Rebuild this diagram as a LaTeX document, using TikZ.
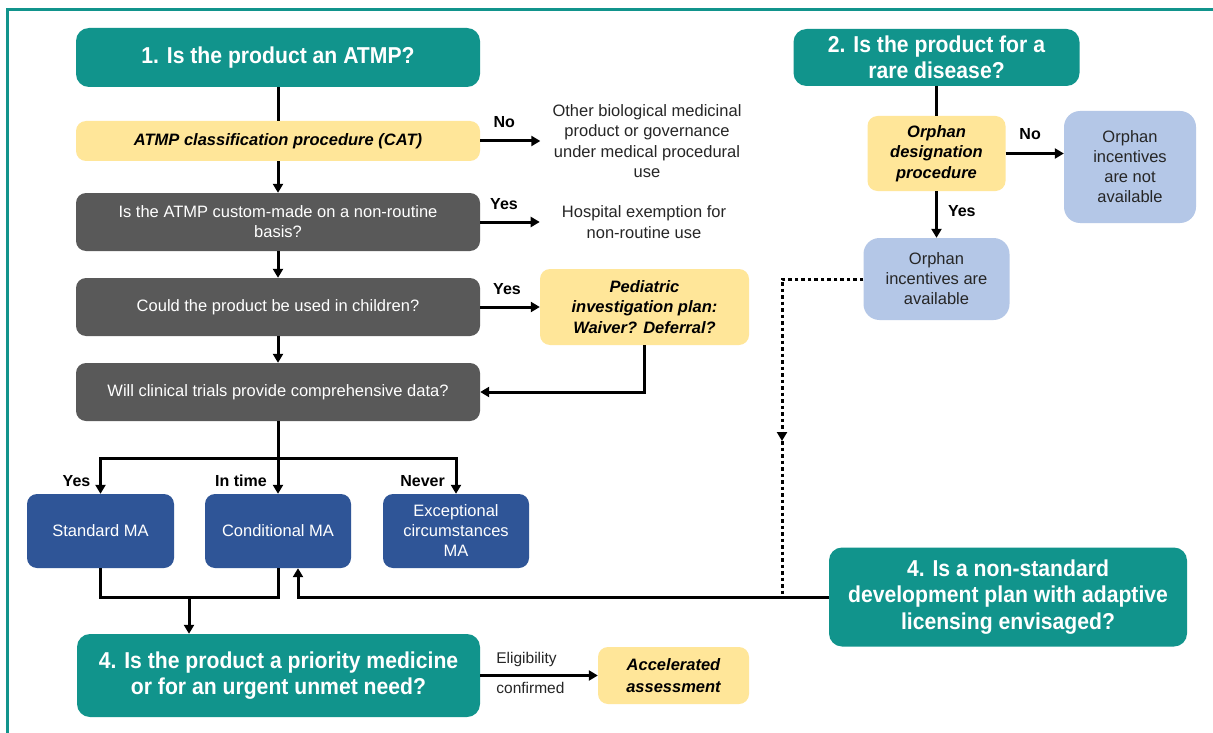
\documentclass[tikz,border=0pt]{standalone}
\usepackage{fontspec}
\setmainfont{Liberation Sans}
\newfontfamily\titlefont{Liberation Sans}[FakeStretch=0.92]
\usetikzlibrary{arrows.meta}

\definecolor{tealc}{RGB}{17,148,140}
\definecolor{grayc}{RGB}{89,89,89}
\definecolor{yellowc}{RGB}{255,230,153}
\definecolor{bluec}{RGB}{47,85,151}
\definecolor{lightc}{RGB}{180,199,231}
\definecolor{textc}{RGB}{38,38,38}

\begin{document}
\begin{tikzpicture}[x=1pt,y=-1pt,
  base/.style={rounded corners=10pt, inner sep=0pt, align=center,
    font=\fontsize{16.5}{20}\selectfont},
  titlebox/.style={base, rounded corners=13pt, fill=tealc, text=white,
    font=\titlefont\bfseries\fontsize{23}{26.5}\selectfont},
  graybox/.style={base, fill=grayc, text=white},
  yellowbox/.style={base, fill=yellowc, text=black,
    font=\bfseries\itshape\fontsize{16.5}{20.5}\selectfont},
  bluebox/.style={base, fill=bluec, text=white},
  lightbox/.style={base, rounded corners=16pt, fill=lightc, text=textc},
  plain/.style={align=center, text=textc, inner ysep=0pt,
    font=\fontsize{16.5}{20.3}\selectfont},
  lbl/.style={font=\bfseries\fontsize{16}{19}\selectfont, text=black, inner sep=0pt},
  note/.style={font=\fontsize{15.5}{18}\selectfont, text=textc, inner sep=0pt},
  conn/.style={line width=3pt, draw=black},
  arr/.style={conn, -{Triangle[length=9pt,width=10pt]}},
  dotconn/.style={line width=3pt, draw=black, dash pattern=on 3.5pt off 3pt}
]
\useasboundingbox (0,0) rectangle (1213,733);
\fill[white] (0,0) rectangle (1213,733);
% frame
\draw[tealc, line width=3pt] (7.5,733) -- (7.5,9.5) -- (1213,9.5);

% left column
\node[titlebox, minimum width=404, minimum height=59] (q1) at (278,57.5) {1. Is the product an ATMP?};
\node[yellowbox, minimum width=404, minimum height=40] (cat) at (278,141) {ATMP classification procedure (CAT)};
\node[graybox, minimum width=404, minimum height=58] (g1) at (278,222) {Is the ATMP custom-made on a non-routine\\basis?};
\node[graybox, minimum width=404, minimum height=58] (g2) at (278,307) {Could the product be used in children?};
\node[graybox, minimum width=404, minimum height=58] (g3) at (278,392) {Will clinical trials provide comprehensive data?};

\node[plain, inner xsep=12pt] (other) at (647,141) {Other biological medicinal\\product or governance\\under medical procedural\\use};
\node[plain, inner xsep=22pt] (hosp) at (644,222) {Hospital exemption for\\non-routine use};
\node[yellowbox, minimum width=209, minimum height=76] (ped) at (644.5,307) {Pediatric\\investigation plan:\\Waiver? Deferral?};

\node[bluebox, minimum width=147, minimum height=74] (std) at (100.5,531) {Standard MA};
\node[bluebox, minimum width=146, minimum height=74] (cond) at (278,531) {Conditional MA};
\node[bluebox, minimum width=146, minimum height=74] (exc) at (456,531) {Exceptional\\circumstances\\MA};

\node[titlebox, minimum width=403, minimum height=83] (prio) at (278.5,675.5) {4. Is the product a priority medicine\\or for an urgent unmet need?};
\node[yellowbox, minimum width=151, minimum height=57, font=\bfseries\itshape\fontsize{16.5}{22}\selectfont] (acc) at (673.5,675.5) {Accelerated\\assessment};

% right column
\node[titlebox, minimum width=286, minimum height=57] (q2) at (936.5,57.5) {2. Is the product for a\\rare disease?};
\node[yellowbox, minimum width=138, minimum height=75] (orph) at (936.5,153.5) {Orphan\\designation\\procedure};
\node[lightbox, minimum width=132, minimum height=112] (notav) at (1130,167) {Orphan\\incentives\\are not\\available};
\node[lightbox, minimum width=146, minimum height=82] (avail) at (936.5,279) {Orphan\\incentives are\\available};
\node[titlebox, minimum width=358, minimum height=99] (adapt) at (1008,597) {4. Is a non-standard\\development plan with adaptive\\licensing envisaged?};

% main chain
\draw[conn] (q1) -- (cat);
\draw[arr] (cat) -- (g1);
\draw[arr] (g1) -- (g2);
\draw[arr] (g2) -- (g3);

\draw[arr] (cat.east) -- node[lbl, anchor=base, yshift=13pt, pos=0.4] (lno) {No} (other.west);
\draw[arr] (g1.east) -- node[lbl, anchor=base, yshift=13pt, pos=0.4] (lyes1) {Yes} (hosp.west);
\draw[arr] (g2.east) -- node[lbl, anchor=base, yshift=13pt, pos=0.45] (lyes2) {Yes} (ped.west);
\draw[arr] (ped.south) |- (g3.east);

% branching to marketing authorisation types
\coordinate (br) at (278,458);
\draw[conn] (g3.south) -- (br);
\draw[arr] (br) -- (cond.north);
\draw[arr] (br) -| (std.north);
\draw[arr] (br) -| (exc.north);
\node[lbl, anchor=base east] (lyes3) at ([xshift=-10pt,yshift=7pt]std.north) {Yes};
\node[lbl, anchor=base east] (ltime) at ([xshift=-11pt,yshift=7pt]cond.north) {In time};
\node[lbl, anchor=base east] (lnever) at ([xshift=-11pt,yshift=7pt]exc.north) {Never};

% merge into priority question
\coordinate (mj) at (189,597);
\draw[conn] (std.south) |- (cond.south |- mj) -- (cond.south);
\draw[arr] (mj) -- (mj |- prio.north);
\draw[arr] (adapt.west) -| ([xshift=20pt]cond.south);

% accelerated assessment
\draw[arr] (prio.east) -- (acc.west);
\node[note, anchor=base west] (lelig) at ([xshift=16pt,yshift=12.5pt]prio.east) {Eligibility};
\node[note, anchor=base west] (lconf) at ([xshift=16pt,yshift=-18pt]prio.east) {confirmed};

% orphan designation
\draw[conn] (q2) -- (orph);
\draw[arr] (orph.east) -- node[lbl, anchor=base, yshift=14pt, pos=0.42] (lno2) {No} (orph.east -| notav.west);
\draw[arr] (orph) -- node[lbl, anchor=west, xshift=10pt, pos=0.42] (lyes4) {Yes} (avail);

% dotted link from orphan incentives to the adaptive licensing line
\coordinate (dm) at (782,441);
\draw[dotconn, -{Triangle[length=9pt,width=10pt]}] (avail.west) -| (dm);
\draw[dotconn] (dm) -- (dm |- adapt.west);
\end{tikzpicture}
\end{document}
